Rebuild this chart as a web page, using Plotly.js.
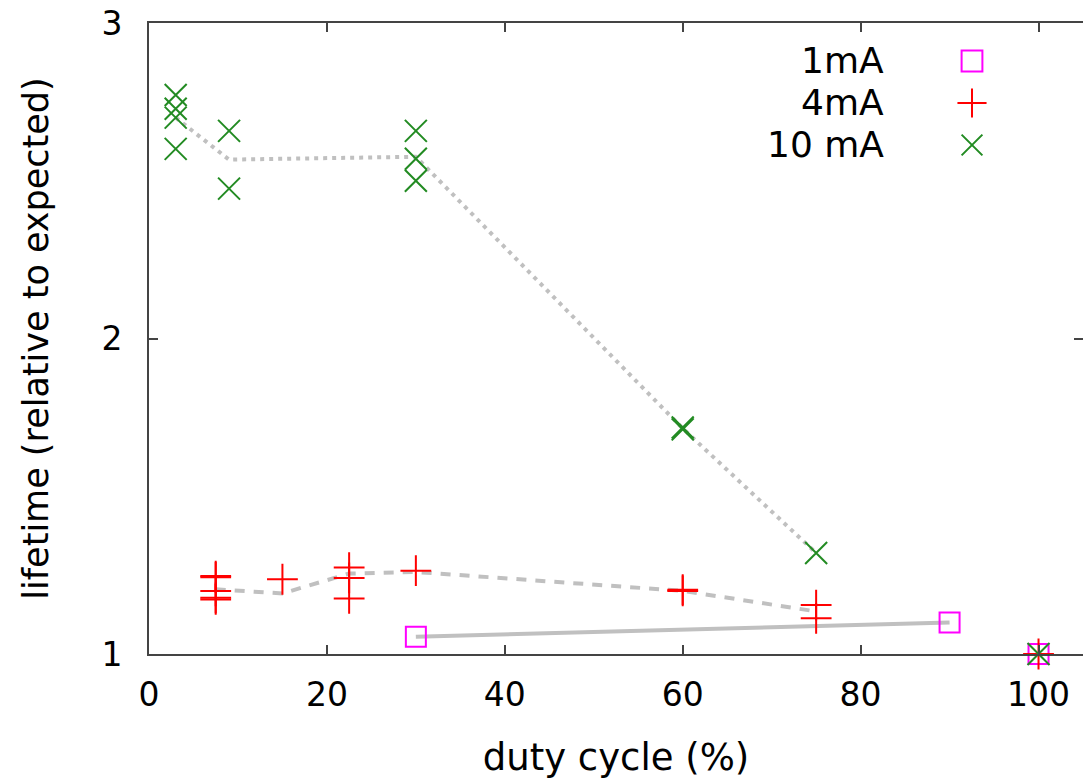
<!DOCTYPE html>
<html>
<head>
<meta charset="utf-8">
<script src="https://cdn.plot.ly/plotly-3.0.1.min.js"></script>
<style>html,body{margin:0;padding:0;background:#fff;}#chart{width:1083px;height:779px;}</style>
</head>
<body>
<div id="chart"></div>
<script>
// ---- data ----
const seriesNames = ["1mA", "4mA", "10 mA"];

const ma1X = [30, 90, 100];
const ma1Y = [1.055, 1.10, 1.0];
const ma1LineX = [30, 90];
const ma1LineY = [1.055, 1.10];

const ma4X = [7.5, 7.5, 7.5, 7.5, 7.5, 15, 22.5, 22.5, 22.5, 30, 60, 60, 75, 75, 100];
const ma4Y = [1.247, 1.243, 1.20, 1.178, 1.173, 1.237, 1.274, 1.241, 1.176, 1.264, 1.204, 1.200, 1.155, 1.113, 1.0];
const ma4LineX = [7.5, 15, 22.5, 30, 60, 75];
const ma4LineY = [1.205, 1.192, 1.255, 1.26, 1.20, 1.135];

const ma10X = [3, 3, 3, 3, 9, 9, 30, 30, 30, 60, 60, 75, 100];
const ma10Y = [2.772, 2.728, 2.70, 2.601, 2.658, 2.475, 2.658, 2.57, 2.50, 1.718, 1.712, 1.32, 1.0];
const ma10LineX = [3, 9, 30, 60, 75];
const ma10LineY = [2.70, 2.567, 2.576, 1.715, 1.32];

const xTicks = [0, 20, 40, 60, 80, 100];
const yTicks = [1, 2, 3];

// ---- styling ----
const FONT = "DejaVu Sans";
const GRAY = "#c0c0c0";
const colors = ["#ff00ff", "#ff0000", "#228b22"];

const traces = [
  {x: ma1LineX, y: ma1LineY, mode: "lines", line: {color: GRAY, width: 4}, showlegend: false, hoverinfo: "skip"},
  {x: ma4LineX, y: ma4LineY, mode: "lines", line: {color: GRAY, width: 4, dash: "10px,9px"}, showlegend: false, hoverinfo: "skip"},
  {x: ma10LineX, y: ma10LineY, mode: "lines", line: {color: GRAY, width: 4, dash: "4px,5px"}, showlegend: false, hoverinfo: "skip"},
  {x: ma1X, y: ma1Y, mode: "markers", name: " ", cliponaxis: false,
   marker: {symbol: "square-open", size: 20, color: colors[0], line: {color: colors[0], width: 2}}},
  {x: ma4X, y: ma4Y, mode: "markers", name: " ", cliponaxis: false,
   marker: {symbol: "cross-thin-open", size: 22, color: colors[1], line: {color: colors[1], width: 2}}},
  {x: ma10X, y: ma10Y, mode: "markers", name: " ", cliponaxis: false,
   marker: {symbol: "x-thin-open", size: 22, color: colors[2], line: {color: colors[2], width: 2}}}
];

const L = 149, R = 0, T = 23, B = 125;
const W = 1083, H = 779;
const pw = W - L - R, ph = H - T - B;
function px2x(p) { return (p - L) / pw; }
function py2y(p) { return (H - B - p) / ph; }

const legendRows = [61, 102, 144];
const annotations = seriesNames.map((n, i) => ({
  text: n, xref: "paper", yref: "paper", x: px2x(886), y: py2y(legendRows[i]),
  xanchor: "right", yanchor: "middle", showarrow: false,
  font: {family: FONT, size: 36, color: "#000"}
}));

const axisCommon = {
  showgrid: false, zeroline: false, showline: true, mirror: "ticks",
  linecolor: "#444", linewidth: 2, ticks: "inside", ticklen: 9, tickwidth: 2, tickcolor: "#444",
  tickfont: {family: FONT, size: 33, color: "#000"}
};

const layout = {
  width: W, height: H,
  margin: {l: L, r: R, t: T, b: B},
  paper_bgcolor: "#fff", plot_bgcolor: "#fff",
  font: {family: FONT, size: 30, color: "#000"},
  xaxis: Object.assign({}, axisCommon, {
    range: [0, 105], tickvals: xTicks, ticktext: xTicks.map(String),
    ticklabelstandoff: 10,
    title: {text: "duty cycle (%)", font: {family: FONT, size: 37, color: "#000"}, standoff: 45}
  }),
  yaxis: Object.assign({}, axisCommon, {
    range: [1, 3], tickvals: yTicks, ticktext: yTicks.map(String),
    ticklabelstandoff: 18,
    title: {text: "lifetime (relative to expected)", font: {family: FONT, size: 35, color: "#000"}, standoff: 42}
  }),
  showlegend: true,
  legend: {x: px2x(952), y: py2y(35), xanchor: "left", yanchor: "top",
           bgcolor: "rgba(0,0,0,0)", borderwidth: 0, font: {family: FONT, size: 30}},
  annotations: annotations
};

Plotly.newPlot("chart", traces, layout, {displayModeBar: false, staticPlot: true}).then(gd => {
  gd.querySelectorAll(".legend .legendpoints path.scatterpts").forEach(p => {
    const t = p.getAttribute("transform") || "";
    p.setAttribute("transform", t + " scale(1.3)");
    p.setAttribute("vector-effect", "non-scaling-stroke");
  });
});
</script>
</body>
</html>
